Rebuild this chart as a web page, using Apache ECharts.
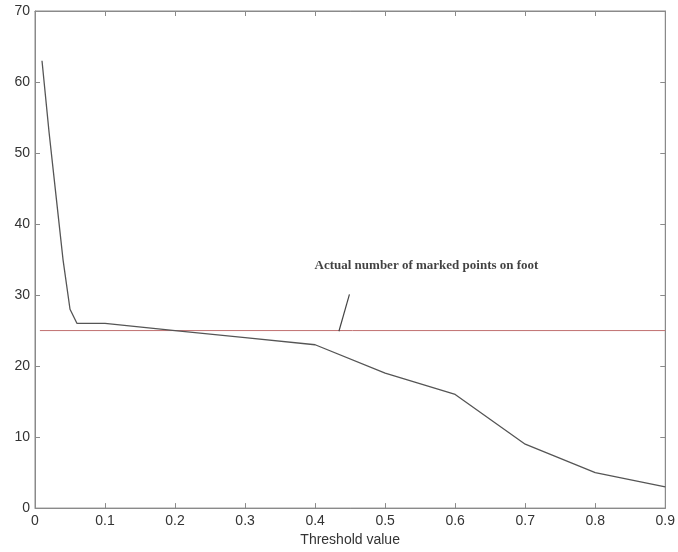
<!DOCTYPE html>
<html>
<head>
<meta charset="utf-8">
<script src="https://cdn.jsdelivr.net/npm/echarts@6/dist/echarts.min.js"></script>
<style>
  html, body { margin: 0; padding: 0; background: #fff; }
  #chart { width: 678px; height: 552px; }
</style>
</head>
<body>
<div id="chart"></div>
<script>
  // threshold vs. number of detected points
  var thresholds = [0.01, 0.02, 0.03, 0.04, 0.05, 0.06, 0.1, 0.2, 0.3, 0.4, 0.5, 0.6, 0.7, 0.8, 0.9];
  var pointCounts = [63, 53, 44, 35, 28, 26, 26, 25, 24, 23, 19, 16, 9, 5, 3];
  // reference: actual number of marked points
  var actualX = [0.007, 0.9];
  var actualY = [25, 25];
  // annotation
  var noteText = 'Actual number of marked points on foot';
  var notePos = [0.559, 34.2];
  var pointerX = [0.449, 0.434];
  var pointerY = [30.1, 24.9];

  function pairs(xs, ys) {
    return xs.map(function (x, i) { return [x, ys[i]]; });
  }

  var axisGray = '#8a8a8a';
  var labelStyle = { color: '#333', fontSize: 14, fontFamily: 'Liberation Sans, Arial, sans-serif' };

  function xAx(pos, labels) {
    return {
      type: 'value', gridIndex: 0, show: true, position: pos,
      min: 0, max: 0.9, interval: 0.1,
      axisLine: { show: true, onZero: false, lineStyle: { color: axisGray, width: 1 } },
      axisTick: { show: true, inside: true, length: 5, lineStyle: { color: axisGray } },
      axisLabel: labels ? Object.assign({ margin: 6, formatter: function (v) { return +v.toFixed(1) + ''; } }, labelStyle) : { show: false },
      splitLine: { show: false }
    };
  }
  function yAx(pos, labels) {
    return {
      type: 'value', gridIndex: 0, show: true, position: pos,
      min: 0, max: 70, interval: 10,
      axisLine: { show: true, onZero: false, lineStyle: { color: axisGray, width: 1 } },
      axisTick: { show: true, inside: true, length: 5, lineStyle: { color: axisGray } },
      axisLabel: labels ? Object.assign({ margin: 5 }, labelStyle) : { show: false },
      splitLine: { show: false }
    };
  }

  var bottomX = xAx('bottom', true);
  bottomX.name = 'Threshold value';
  bottomX.nameLocation = 'middle';
  bottomX.nameGap = 24;
  bottomX.nameTextStyle = labelStyle;

  var chart = echarts.init(document.getElementById('chart'));
  chart.setOption({
    animation: false,
    grid: { left: 35, right: 12, top: 11, bottom: 43, show: true, borderColor: axisGray, borderWidth: 1, backgroundColor: 'transparent' },
    xAxis: [bottomX, xAx('top', false)],
    yAxis: [yAx('left', true), yAx('right', false)],
    series: [{
      type: 'line',
      data: pairs(actualX, actualY),
      symbol: 'none',
      lineStyle: { color: '#c07070', width: 1 },
      silent: true
    }, {
      type: 'line',
      data: pairs(thresholds, pointCounts),
      symbol: 'none',
      lineStyle: { color: '#555', width: 1.3 },
      silent: true
    }, {
      type: 'line',
      data: pairs(pointerX, pointerY),
      symbol: 'none',
      lineStyle: { color: '#444', width: 1.2 },
      silent: true
    }, {
      type: 'line',
      xAxisIndex: 1, yAxisIndex: 1,
      data: [],
      silent: true
    }, {
      type: 'scatter',
      data: [notePos],
      symbolSize: 0,
      label: {
        show: true, position: 'inside', formatter: noteText,
        color: '#111', fontSize: 13, fontWeight: 'bold',
        fontFamily: 'Liberation Serif, Times New Roman, serif'
      },
      silent: true
    }]
  });
</script>
</body>
</html>
